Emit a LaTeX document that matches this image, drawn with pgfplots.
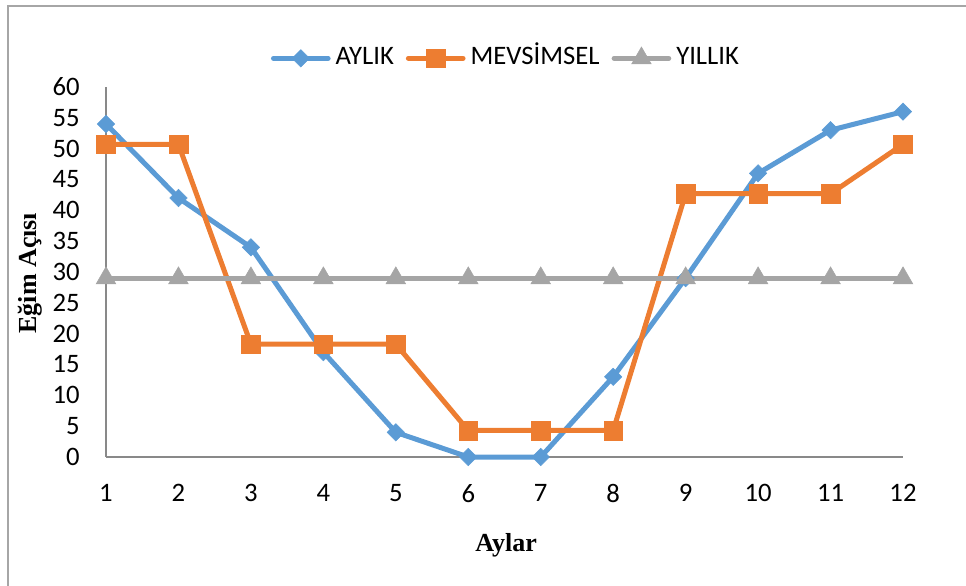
\documentclass[border=0pt]{standalone}
\usepackage{pgfplots}
\pgfplotsset{compat=1.18}
\usepackage{fontspec}
\setmainfont{Carlito}
\newfontfamily\tnr{Liberation Serif}
\definecolor{cblue}{HTML}{5B9BD5}
\definecolor{corange}{HTML}{ED7D31}
\definecolor{cgray}{HTML}{A5A5A5}
\definecolor{axgray}{HTML}{898989}
\definecolor{framegray}{HTML}{A6A6A6}
\begin{document}
\begin{tikzpicture}
\useasboundingbox (0,0) rectangle (724.5pt,438.75pt);
\draw[framegray, line width=1.1pt] (6pt,-5pt) -- (6pt,434.25pt) -- (730pt,434.25pt);
\begin{axis}[
  at={(79.5pt,96pt)}, anchor=south west,
  scale only axis, width=597.75pt, height=277.5pt,
  xmin=1, xmax=12, ymin=0, ymax=60,
  xtick={1,...,12}, ytick={0,5,...,60},
  axis x line*=bottom, axis y line*=left,
  axis line style={axgray, line width=0.9pt, -},
  major tick length=0pt,
  clip=false,
  /pgf/number format/assume math mode=true,
  tick label style={font=\fontsize{20}{24}\selectfont, inner sep=0pt},
  yticklabel style={anchor=east, xshift=-19.5pt},
  xticklabel style={anchor=north, yshift=-20.5pt},
  xlabel={\tnr\bfseries Aylar},
  ylabel={\tnr\bfseries Eğim Açısı},
  xlabel style={font=\fontsize{19.5}{23}\selectfont, at={(rel axis cs:0.502,-0.238)}, anchor=center, inner sep=0pt},
  ylabel style={font=\fontsize{19.5}{23}\selectfont, at={(rel axis cs:-0.0955,0.497)}, anchor=center, rotate=0, inner sep=0pt},
  legend columns=3,
  legend style={draw=none, fill=none, at={(0.5006,1.078)}, anchor=center,
    font=\fontsize{20}{24}\selectfont,
    nodes={inner sep=0pt, text height=13pt, text depth=3.5pt},
    /tikz/every odd column/.append style={column sep=3.75pt},
    /tikz/every even column/.append style={column sep=9pt}},
  legend cell align=left,
  legend image code/.code={\draw[mark repeat=2, mark phase=2, line cap=round] plot coordinates {(0pt,0pt) (20.5pt,0pt) (41pt,0pt)};},
]
\addplot[cblue, line width=3.75pt, mark=square*, mark size=4.6pt, mark options={solid, rotate=45, line width=0.4pt, fill=cblue}]
 coordinates {(1,54) (2,42) (3,34) (4,17) (5,4) (6,0) (7,0) (8,13) (9,29) (10,46) (11,53) (12,56)};
\addlegendentry{AYLIK}
\addplot[corange, line width=3.75pt, mark=square*, mark size=7pt, mark options={solid, line width=0.4pt, fill=corange}]
 coordinates {(1,50.7) (2,50.7) (3,18.3) (4,18.3) (5,18.3) (6,4.3) (7,4.3) (8,4.3) (9,42.7) (10,42.7) (11,42.7) (12,50.7)};
\addlegendentry{MEVSİMSEL}
\addplot[cgray, line width=3.75pt, mark=triangle*, mark size=8.5pt, mark options={solid, line width=0.4pt, fill=cgray}]
 coordinates {(1,29) (2,29) (3,29) (4,29) (5,29) (6,29) (7,29) (8,29) (9,29) (10,29) (11,29) (12,29)};
\addlegendentry{YILLIK}
\end{axis}
\end{tikzpicture}
\end{document}
